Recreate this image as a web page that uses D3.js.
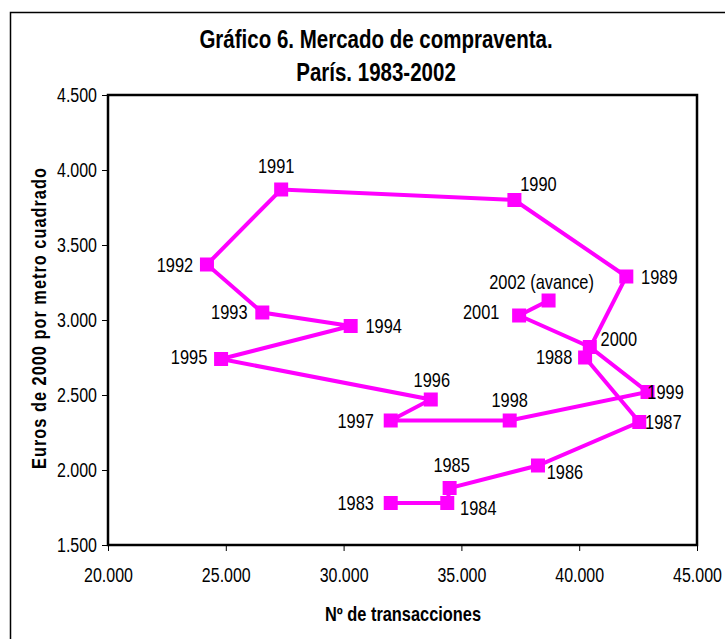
<!DOCTYPE html>
<html><head><meta charset="utf-8">
<script src="https://cdn.jsdelivr.net/npm/d3@7"></script>
<style>
body{margin:0;background:#fff;}
text{font-family:"Liberation Sans Narrow","Arial Narrow","Liberation Sans",Arial,sans-serif;}
</style></head>
<body><svg id="c" width="725" height="639"></svg>
<script>
const years = ["1983","1984","1985","1986","1987","1988","1989","1990","1991","1992","1993","1994","1995","1996","1997","1998","1999","2000","2001","2002 (avance)"];
const transactions = [32000,34400,34500,38250,42550,40250,42000,37250,27350,24200,26550,30300,24800,33700,32000,37050,42900,40450,37450,38700];
const prices = [1780,1780,1880,2030,2320,2750,3290,3800,3870,3370,3050,2960,2740,2470,2330,2330,2520,2820,3030,3130];
const xTicks = [20000,25000,30000,35000,40000,45000];
const yTicks = [1500,2000,2500,3000,3500,4000,4500];
// label placement (layout only)
const labelOffsets = [[-35,0],[31,5],[2,-23],[27,6],[24,0],[-31,-1],[33,0],[24,-16],[-5,-24],[-32,0],[-33,-1],[33,0],[-32,-2],[1,-20],[-35,0],[0,-21],[18,0],[29,-8],[-38,-4],[-7,-19]];

const SX = 0.82; // horizontal condensing to emulate a narrow face
const svg = d3.select("#c");
const L=108, R=697, T=95, B=545;
const x = d3.scaleLinear().domain([20000,45000]).range([L,R]);
const y = d3.scaleLinear().domain([1500,4500]).range([B,T]);
const fmt = v => d3.format(",")(v).replace(/,/g,".");

// outer frame
svg.append("rect").attr("x",10.5).attr("y",12.5).attr("width",740).attr("height",700)
  .attr("fill","none").attr("stroke","#000").attr("stroke-width",1.5);

// plot box
svg.append("rect").attr("x",L).attr("y",T).attr("width",R-L).attr("height",B-T)
  .attr("fill","none").attr("stroke","#000").attr("stroke-width",2.5);

const xa = svg.append("g").attr("transform",`translate(0,${B})`)
  .call(d3.axisBottom(x).tickValues(xTicks).tickFormat(fmt).tickSizeOuter(0).tickSize(6).tickPadding(17));
const ya = svg.append("g").attr("transform",`translate(${L},0)`)
  .call(d3.axisLeft(y).tickValues(yTicks).tickFormat(fmt).tickSizeOuter(0).tickSize(6).tickPadding(5));
[xa,ya].forEach(a=>{
  a.select(".domain").remove();
  a.selectAll(".tick line").attr("stroke","#000").attr("stroke-width",1);
  a.selectAll(".tick text").attr("fill","#000").style("font-size","19.5px");
});
xa.selectAll(".tick text").attr("transform",`scale(${SX},1)`);
ya.selectAll(".tick text").attr("x",-11/SX).attr("transform",`scale(${SX},1)`);

const pts = years.map((yr,i)=>({yr, x:transactions[i], y:prices[i], o:labelOffsets[i]}));
svg.append("path").datum(pts)
  .attr("d", d3.line().x(d=>x(d.x)).y(d=>y(d.y)))
  .attr("fill","none").attr("stroke","#FF00FF").attr("stroke-width",4).attr("stroke-linejoin","miter");
const ms=14;
svg.selectAll("rect.m").data(pts).join("rect").attr("class","m")
  .attr("x",d=>x(d.x)-ms/2).attr("y",d=>y(d.y)-ms/2).attr("width",ms).attr("height",ms)
  .attr("fill","#FF00FF");
svg.selectAll("text.lbl").data(pts).join("text").attr("class","lbl")
  .attr("transform",d=>`translate(${x(d.x)+d.o[0]},${y(d.y)+d.o[1]}) scale(${SX},1)`)
  .attr("text-anchor","middle").attr("dominant-baseline","central")
  .style("font-size","20px").attr("fill","#000").text(d=>d.yr);

// titles
function narrow(tx,ty,size,txt,extra){
  return svg.append("text").attr("transform",`translate(${tx},${ty}) ${extra||""} scale(${SX},1)`)
    .attr("text-anchor","middle").style("font-size",size+"px").style("font-weight","bold").attr("fill","#000").text(txt);
}
narrow(376,48,25,"Gráfico 6. Mercado de compraventa.");
narrow(376,81,25,"París. 1983-2002");
narrow(403,621,20,"Nº de transacciones");
narrow(46,318,20,"Euros de 2000 por metro cuadrado","rotate(-90)").style("letter-spacing","1.2px");
</script></body></html>
